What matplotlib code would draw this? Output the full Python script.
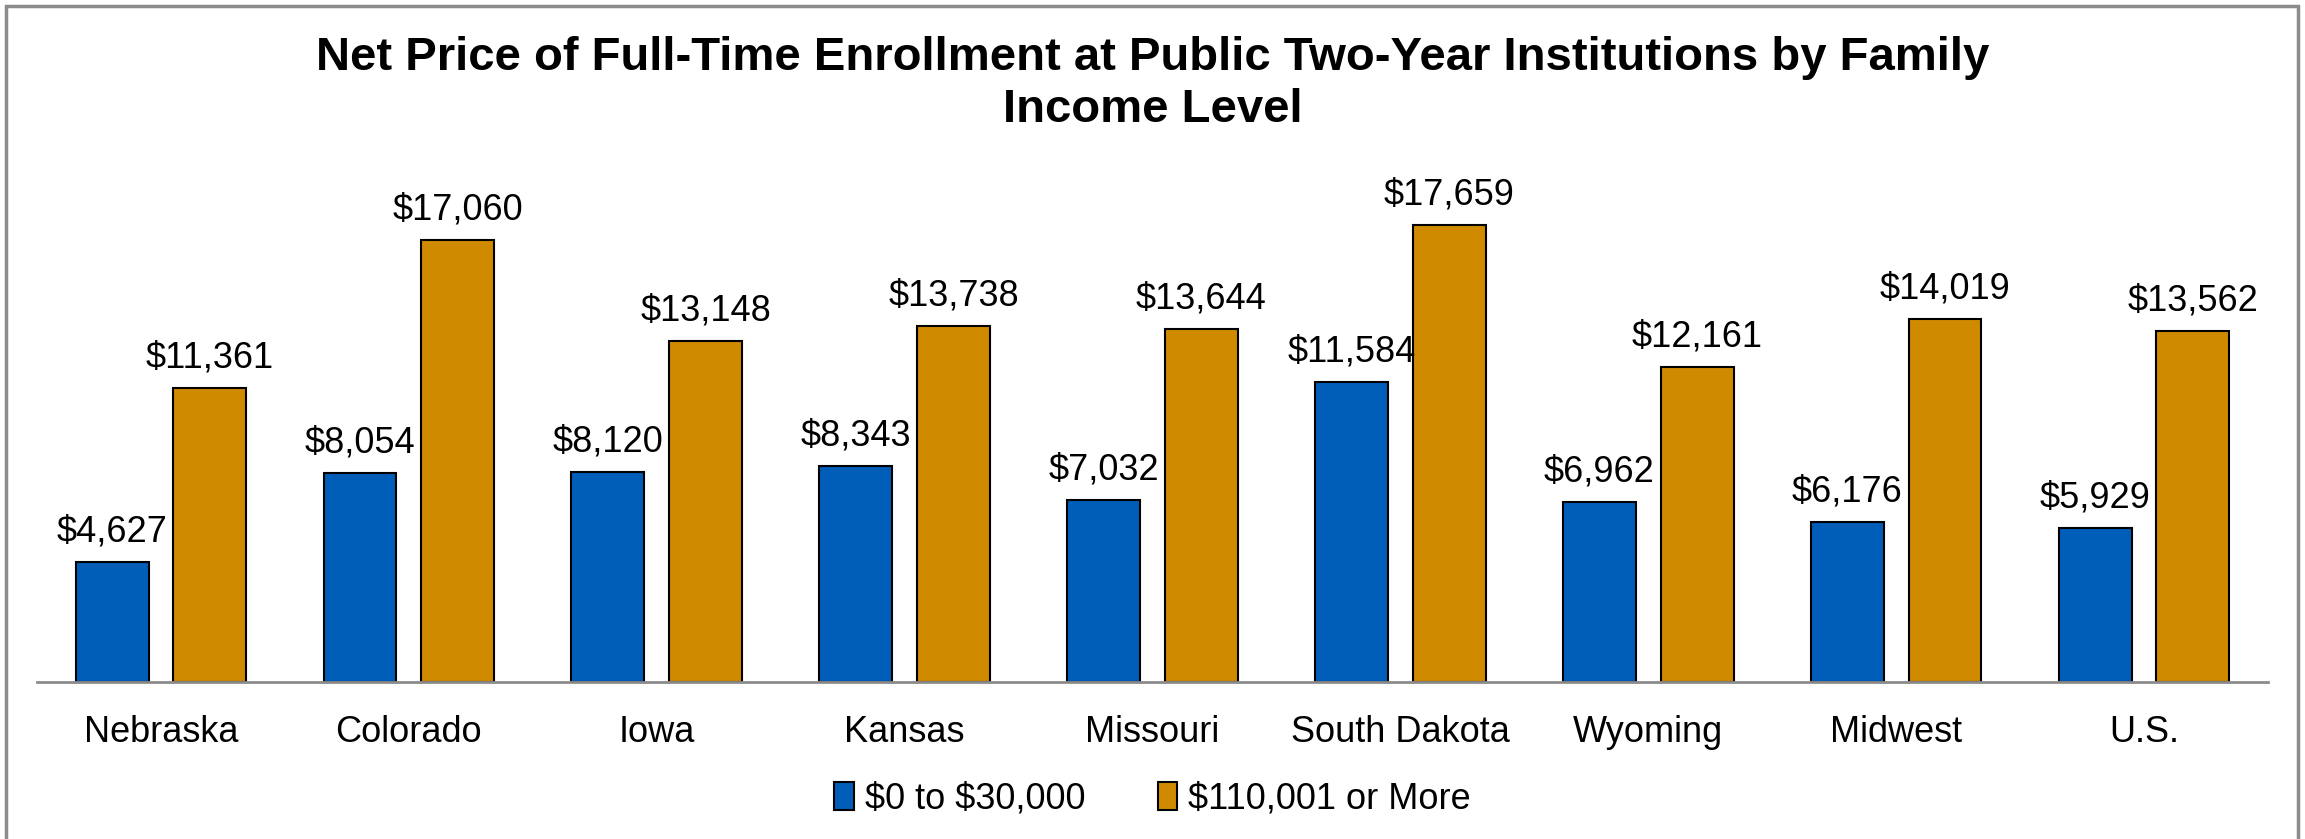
import matplotlib
matplotlib.use("Agg")
import matplotlib.pyplot as plt
import numpy as np
from matplotlib.patches import Rectangle

# chart data
categories = ["Nebraska", "Colorado", "Iowa", "Kansas", "Missouri",
              "South Dakota", "Wyoming", "Midwest", "U.S."]
low_income = [4627, 8054, 8120, 8343, 7032, 11584, 6962, 6176, 5929]
high_income = [11361, 17060, 13148, 13738, 13644, 17659, 12161, 14019, 13562]
series_names = [r"\$0 to \$30,000", r"\$110,001 or More"]
title = "Net Price of Full-Time Enrollment at Public Two-Year Institutions by Family\nIncome Level"

blue = "#005EB8"
orange = "#D08A00"

plt.rcParams['font.family'] = ['Liberation Sans', 'DejaVu Sans']

fig = plt.figure(figsize=(23.05, 8.39), dpi=100)
ax = fig.add_axes([37/2305, 157/839, 2231/2305, 518/839])

x = np.arange(len(categories))
w = 0.294
off = 0.197
b1 = ax.bar(x - off, low_income, w, color=blue, edgecolor="black", linewidth=1.5, label=series_names[0])
b2 = ax.bar(x + off, high_income, w, color=orange, edgecolor="black", linewidth=1.5, label=series_names[1])

for bars, vals in [(b1, low_income), (b2, high_income)]:
    for r, v in zip(bars, vals):
        ax.annotate("\\${:,}".format(v), (r.get_x() + r.get_width()/2, v),
                    xytext=(0, 9), textcoords="offset points",
                    ha="center", va="bottom", fontsize=26)

ax.set_xlim(-0.5, len(categories) - 0.5)
ax.set_ylim(0, 20000)
ax.set_yticks([])
ax.set_xticks(x)
ax.set_xticklabels(categories, fontsize=26)
ax.tick_params(axis="x", length=0, pad=24)
for s in ["top", "right", "left"]:
    ax.spines[s].set_visible(False)
ax.spines["bottom"].set_color("#8C8C8C")
ax.spines["bottom"].set_linewidth(2)

fig.text(0.5, 1 - 84/839, title, ha="center", va="center", fontsize=34,
         fontweight="bold", linespacing=1.26)

leg = fig.legend(loc="center", bbox_to_anchor=(0.5, 1 - 799/839), ncol=2,
                 frameon=False, fontsize=26, handlelength=0.55, handleheight=0.8,
                 handletextpad=0.3, columnspacing=2.0)

# outer frame
fig.patches.append(Rectangle((6/2305, -0.05), 2292/2305, 1.05 - 6/839,
                             transform=fig.transFigure, fill=False,
                             edgecolor="#8C8C8C", linewidth=2.5))

fig.savefig("out.png", dpi=100)
